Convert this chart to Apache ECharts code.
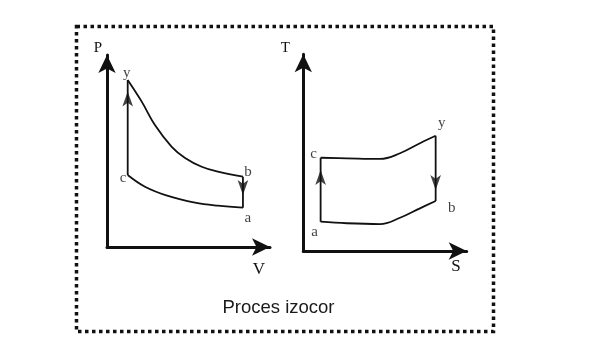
<!DOCTYPE html>
<html><head><meta charset="utf-8">
<script src="https://cdn.jsdelivr.net/npm/echarts@6/dist/echarts.min.js"></script>
<style>html,body{margin:0;padding:0;background:#fff}#c{width:605px;height:364px}</style>
</head><body><div id="c"></div>
<script>
// ---- P-V diagram (arbitrary units, axes 0..10) ----
const pvExpV = [1.27, 2.13, 2.94, 3.97, 4.79, 5.81, 6.81, 8.34];   // y -> b
const pvExpP = [8.70, 7.57, 6.35, 5.22, 4.64, 4.18, 3.92, 3.66];
const pvCmpV = [1.27, 2.33, 3.74, 5.40, 6.81, 8.34];               // c -> a
const pvCmpP = [3.75, 3.14, 2.66, 2.31, 2.15, 2.05];
const pvLabels = ['y', 'c', 'b', 'a'];
const pvPtV = [1.27, 1.27, 8.34, 8.34];
const pvPtP = [8.70, 3.75, 3.66, 2.05];
const pvArrowV = [1.27, 8.34];
const pvArrowP = [8.10, 2.71];
const pvArrowDir = ['up', 'down'];
// ---- T-S diagram ----
const tsUpS = [1.06, 2.66, 4.69, 5.92, 7.14, 8.10];                 // c -> y
const tsUpT = [4.74, 4.71, 4.68, 4.97, 5.48, 5.86];
const tsLowS = [1.06, 2.66, 4.69, 5.92, 7.14, 8.10];                // a -> b
const tsLowT = [1.49, 1.41, 1.37, 1.69, 2.17, 2.54];
const tsLabels = ['c', 'a', 'y', 'b'];
const tsPtS = [1.06, 1.06, 8.10, 8.10];
const tsPtT = [4.74, 1.49, 5.86, 2.54];
const tsArrowS = [1.06, 8.10];
const tsArrowT = [4.12, 3.10];
const tsArrowDir = ['up', 'down'];
const axisNames = ['V', 'P', 'S', 'T'];
const caption = 'Proces izocor';

const INK = '#111';
const serif = 'Liberation Serif';
const zip = (a, b) => a.map((v, i) => [v, b[i]]);

const pvLabelOffsets = [[-1, -7], [-4.5, 3], [5, -5], [5, 10]];
const tsLabelOffsets = [[-7, -4], [-6, 10], [6, -13], [16, 7]];

function axisBase(name, nameGap, va, pad, fs) {
  return {
    type: 'value', min: 0, max: 10, name: name, nameLocation: 'end', nameGap: nameGap,
    nameMoveOverlap: false,
    nameTextStyle: { color: INK, fontFamily: serif, fontSize: fs, align: 'center', verticalAlign: va, padding: pad },
    axisLine: { show: true, onZero: false, symbol: ['none', 'arrow'], symbolSize: [13, 18], lineStyle: { color: INK, width: 3 } },
    axisTick: { show: false }, axisLabel: { show: false }, splitLine: { show: false }
  };
}
const curveStyle = { color: INK, width: 1.8 };
function curve(idx, xs, ys) {
  return { type: 'line', xAxisIndex: idx, yAxisIndex: idx, data: zip(xs, ys), smooth: 0.4,
    showSymbol: false, symbol: 'none', lineStyle: curveStyle, silent: true, animation: false };
}
function vline(idx, x, y1, y2) {
  return { type: 'line', xAxisIndex: idx, yAxisIndex: idx, data: [[x, y1], [x, y2]],
    showSymbol: false, symbol: 'none', lineStyle: curveStyle, silent: true, animation: false };
}
function arrows(idx, xs, ys, dirs) {
  return { type: 'scatter', xAxisIndex: idx, yAxisIndex: idx, symbol: 'arrow', symbolSize: [8, 15],
    data: xs.map((x, i) => ({ value: [x, ys[i]], symbolRotate: dirs[i] === 'down' ? 180 : 0 })),
    itemStyle: { color: INK }, silent: true, animation: false };
}
function labels(idx, names, xs, ys, offs) {
  return { type: 'scatter', xAxisIndex: idx, yAxisIndex: idx, symbolSize: 0,
    data: names.map((n, i) => ({ name: n, value: [xs[i], ys[i]], label: { offset: offs[i] } })),
    label: { show: true, position: 'inside', formatter: '{b}', color: INK, fontFamily: serif, fontSize: 15 },
    silent: true, animation: false };
}

const chart = echarts.init(document.getElementById('c'), null, { renderer: 'canvas' });
chart.setOption({
  backgroundColor: '#fff',
  animation: false,
  grid: [
    { left: 107, top: 55, width: 163, height: 192 },
    { left: 303.3, top: 54.3, width: 163.4, height: 196.7 }
  ],
  xAxis: [
    Object.assign(axisBase(axisNames[0], -11, 'top', [14, 0, 0, 0], 17), { gridIndex: 0 }),
    Object.assign(axisBase(axisNames[2], -10.7, 'top', [7, 0, 0, 0], 17), { gridIndex: 1 })
  ],
  yAxis: [
    Object.assign(axisBase(axisNames[1], 7, 'middle', [0, 18, 0, 0], 15), { gridIndex: 0 }),
    Object.assign(axisBase(axisNames[3], 6.3, 'middle', [0, 36, 0, 0], 15), { gridIndex: 1 })
  ],
  graphic: [
    { type: 'rect', shape: { x: 76.5, y: 26.5, width: 417, height: 305 },
      style: { fill: 'none', stroke: INK, lineWidth: 3.5, lineDash: [3.5, 3.5] }, silent: true },
    { type: 'text', x: 278.5, y: 308, style: { text: caption, fill: '#1a1a1a', font: '18.5px "Liberation Sans"', textAlign: 'center', textVerticalAlign: 'middle' }, silent: true }
  ],
  series: [
    curve(0, pvExpV, pvExpP),
    curve(0, pvCmpV, pvCmpP),
    vline(0, pvPtV[1], pvPtP[1], pvPtP[0]),
    vline(0, pvPtV[2], pvPtP[2], pvPtP[3]),
    arrows(0, pvArrowV, pvArrowP, pvArrowDir),
    labels(0, pvLabels, pvPtV, pvPtP, pvLabelOffsets),
    curve(1, tsUpS, tsUpT),
    curve(1, tsLowS, tsLowT),
    vline(1, tsPtS[1], tsPtT[1], tsPtT[0]),
    vline(1, tsPtS[2], tsPtT[2], tsPtT[3]),
    arrows(1, tsArrowS, tsArrowT, tsArrowDir),
    labels(1, tsLabels, tsPtS, tsPtT, tsLabelOffsets)
  ]
});
</script></body></html>
